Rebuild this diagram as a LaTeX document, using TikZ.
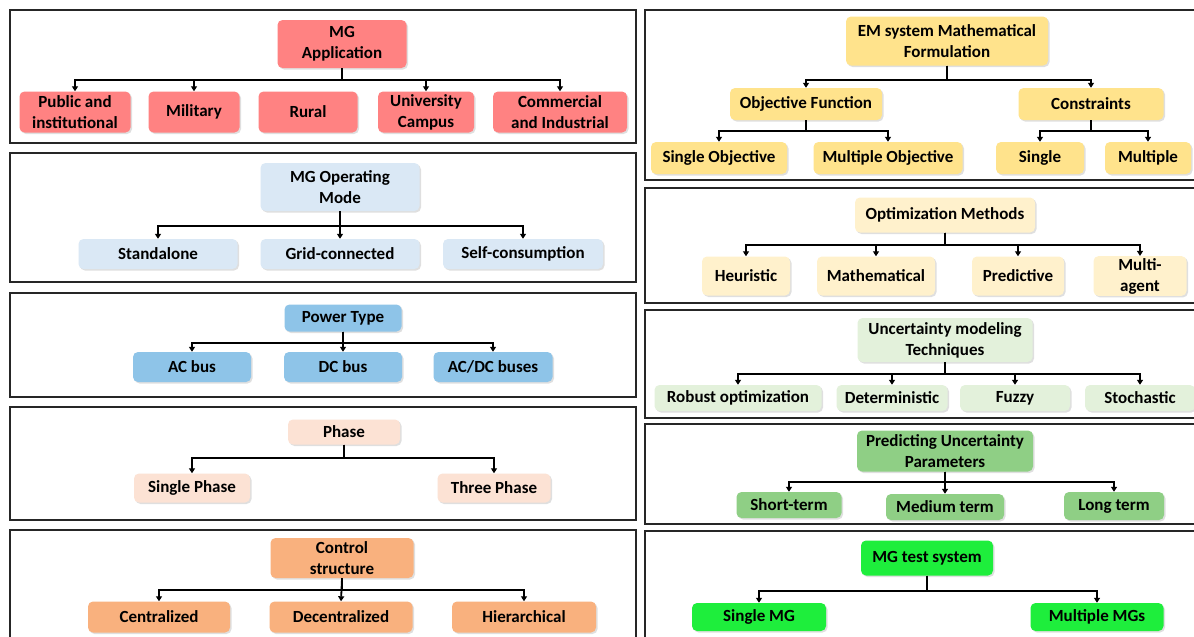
\documentclass[tikz,border=0pt]{standalone}
\usepackage{fontspec}
\setmainfont{Carlito}
\usepackage{xcolor}
\usepackage{tikz}
\usetikzlibrary{positioning, arrows.meta, shadows}

\definecolor{appred}{RGB}{255,130,130}
\definecolor{modeblue}{RGB}{218,232,245}
\definecolor{powblue}{RGB}{142,196,232}
\definecolor{phasepeach}{RGB}{252,226,212}
\definecolor{ctrlorange}{RGB}{249,177,126}
\definecolor{emyellow}{RGB}{255,227,140}
\definecolor{optyellow}{RGB}{255,241,204}
\definecolor{uncgreen}{RGB}{227,241,219}
\definecolor{predgreen}{RGB}{143,207,133}
\definecolor{testgreen}{RGB}{30,238,60}

\begin{document}
\begin{tikzpicture}[
  x=1pt, y=-1pt,
  box/.style={rounded corners=5pt, align=center, inner sep=2pt,
    font=\bfseries\fontsize{17}{21}\selectfont,
    drop shadow={opacity=0.25, shadow xshift=1.5pt, shadow yshift=-1.5pt}},
  panel/.style={draw=black!85, line width=2pt},
  arrow/.style={-{Triangle[length=5pt, width=6pt]}, line width=1.8pt}]

  \useasboundingbox (0,0) rectangle (1194,637);
  \fill[white] (0,0) rectangle (1194,637);

  % left column panels
  \draw[panel] (10,10) rectangle (636,143);
  \draw[panel] (10,153) rectangle (636,282);
  \draw[panel] (10,293) rectangle (636,397);
  \draw[panel] (10,407) rectangle (636,520);
  \draw[panel] (10,530) rectangle (636,650);
  % right column panels
  \draw[panel] (645,10) rectangle (1200,180);
  \draw[panel] (645,188) rectangle (1200,303);
  \draw[panel] (645,310) rectangle (1200,418);
  \draw[panel] (645,424) rectangle (1200,524);
  \draw[panel] (645,531) rectangle (1200,650);

  % MG application
  \node[box, fill=appred, minimum width=129, minimum height=48] (app) at (342,44) {MG\\Application};
  \node[box, fill=appred, minimum width=111, minimum height=41] (pub) at (75,112) {Public and\\institutional};
  \node[box, fill=appred, minimum width=91, minimum height=41] (mil) at (194,112) {Military};
  \node[box, fill=appred, minimum width=99, minimum height=41] (rur) at (308,112) {Rural};
  \node[box, fill=appred, minimum width=96, minimum height=41] (uni) at (426,112) {University\\Campus};
  \node[box, fill=appred, minimum width=134, minimum height=41] (com) at (560,112) {Commercial\\and Industrial};
  \draw[arrow] (app.south) -- ++(0,12) -| (pub.north);
  \draw[arrow] (app.south) -- ++(0,12) -| (mil.north);
  \draw[arrow] (app.south) -- ++(0,12) -| (uni.north);
  \draw[arrow] (app.south) -- ++(0,12) -| (com.north);

  % MG operating mode
  \node[box, fill=modeblue, minimum width=159, minimum height=48] (mode) at (340,187) {MG Operating\\Mode};
  \node[box, fill=modeblue, minimum width=159, minimum height=30] (stand) at (158,254) {Standalone};
  \node[box, fill=modeblue, minimum width=159, minimum height=30] (grid) at (340,254) {Grid-connected};
  \node[box, fill=modeblue, minimum width=160, minimum height=30] (self) at (523,254) {Self-consumption};
  \draw[arrow] (mode.south) -- ++(0,15) -| (stand.north);
  \draw[arrow] (mode.south) -- (grid.north);
  \draw[arrow] (mode.south) -- ++(0,15) -| (self.north);

  % power type
  \node[box, fill=powblue, minimum width=117, minimum height=27] (pow) at (343,318) {Power Type};
  \node[box, fill=powblue, minimum width=118, minimum height=30] (ac) at (192,367) {AC bus};
  \node[box, fill=powblue, minimum width=118, minimum height=30] (dc) at (343,367) {DC bus};
  \node[box, fill=powblue, minimum width=119, minimum height=30] (acdc) at (493,367) {AC/DC buses};
  \draw[arrow] (pow.south) -- ++(0,11) -| (ac.north);
  \draw[arrow] (pow.south) -- (dc.north);
  \draw[arrow] (pow.south) -- ++(0,11) -| (acdc.north);

  % phase
  \node[box, fill=phasepeach, minimum width=112, minimum height=25] (phase) at (344,432) {Phase};
  \node[box, fill=phasepeach, minimum width=116, minimum height=29] (single) at (192,488) {Single Phase};
  \node[box, fill=phasepeach, minimum width=113, minimum height=29] (three) at (494,488) {Three Phase};
  \draw[arrow] (phase.south) -- ++(0,13) -| (single.north);
  \draw[arrow] (phase.south) -- ++(0,13) -| (three.north);

  % control structure
  \node[box, fill=ctrlorange, minimum width=143, minimum height=40] (ctrl) at (342,558) {Control\\structure};
  \node[box, fill=ctrlorange, minimum width=142, minimum height=31] (cent) at (159,617) {Centralized};
  \node[box, fill=ctrlorange, minimum width=143, minimum height=31] (dece) at (341,617) {Decentralized};
  \node[box, fill=ctrlorange, minimum width=144, minimum height=31] (hier) at (524,617) {Hierarchical};
  \draw[arrow] (ctrl.south) -- ++(0,12) -| (cent.north);
  \draw[arrow] (ctrl.south) -- (dece.north);
  \draw[arrow] (ctrl.south) -- ++(0,12) -| (hier.north);

  % EM formulation
  \node[box, fill=emyellow, minimum width=202, minimum height=49] (em) at (947,41) {EM system Mathematical\\Formulation};
  \node[box, fill=emyellow, minimum width=152, minimum height=32] (obj) at (806,104) {Objective Function};
  \node[box, fill=emyellow, minimum width=145, minimum height=32] (cons) at (1091,104) {Constraints};
  \node[box, fill=emyellow, minimum width=136, minimum height=32] (sobj) at (719,158) {Single Objective};
  \node[box, fill=emyellow, minimum width=149, minimum height=32] (mobj) at (888,158) {Multiple Objective};
  \node[box, fill=emyellow, minimum width=88, minimum height=32] (scons) at (1040,158) {Single};
  \node[box, fill=emyellow, minimum width=86, minimum height=32] (mcons) at (1148,158) {Multiple};
  \draw[arrow] (em.south) -- ++(0,14) -| (obj.north);
  \draw[arrow] (em.south) -- ++(0,14) -| (cons.north);
  \draw[arrow] (obj.south) -- ++(0,11) -| (sobj.north);
  \draw[arrow] (obj.south) -- ++(0,11) -| (mobj.north);
  \draw[arrow] (cons.south) -- ++(0,11) -| (scons.north);
  \draw[arrow] (cons.south) -- ++(0,11) -| (mcons.north);

  % optimization methods
  \node[box, fill=optyellow, minimum width=180, minimum height=35] (opt) at (945,215) {Optimization Methods};
  \node[box, fill=optyellow, minimum width=88, minimum height=39] (heur) at (746,276) {Heuristic};
  \node[box, fill=optyellow, minimum width=118, minimum height=39] (math) at (876,276) {Mathematical};
  \node[box, fill=optyellow, minimum width=92, minimum height=39] (pred) at (1018,276) {Predictive};
  \node[box, fill=optyellow, minimum width=93, minimum height=39] (agent) at (1140,276) {Multi-\\agent};
  \draw[arrow] (opt.south) -- ++(0,12) -| (heur.north);
  \draw[arrow] (opt.south) -- ++(0,12) -| (math.north);
  \draw[arrow] (opt.south) -- ++(0,12) -| (pred.north);
  \draw[arrow] (opt.south) -- ++(0,12) -| (agent.north);

  % uncertainty modeling
  \node[box, fill=uncgreen, minimum width=175, minimum height=44] (unc) at (945,340) {Uncertainty modeling\\Techniques};
  \node[box, fill=uncgreen, minimum width=167, minimum height=26] (rob) at (738,398) {Robust optimization};
  \node[box, fill=uncgreen, minimum width=111, minimum height=26] (det) at (892,398) {Deterministic};
  \node[box, fill=uncgreen, minimum width=110, minimum height=26] (fuz) at (1015,398) {Fuzzy};
  \node[box, fill=uncgreen, minimum width=110, minimum height=26] (sto) at (1140,398) {Stochastic};
  \draw[arrow] (unc.south) -- ++(0,12) -| (rob.north);
  \draw[arrow] (unc.south) -- ++(0,12) -| (det.north);
  \draw[arrow] (unc.south) -- ++(0,12) -| (fuz.north);
  \draw[arrow] (unc.south) -- ++(0,12) -| (sto.north);

  % predicting uncertainty
  \node[box, fill=predgreen, minimum width=176, minimum height=41] (prd) at (945,451) {Predicting Uncertainty\\Parameters};
  \node[box, fill=predgreen, minimum width=105, minimum height=26] (short) at (789,505) {Short-term};
  \node[box, fill=predgreen, minimum width=118, minimum height=26] (medium) at (945,507) {Medium term};
  \node[box, fill=predgreen, minimum width=100, minimum height=28] (long) at (1114,506) {Long term};
  \draw[arrow] (prd.south) -- ++(0,10) -| (short.north);
  \draw[arrow] (prd.south) -- (medium.north);
  \draw[arrow] (prd.south) -- ++(0,10) -| (long.north);

  % MG test system
  \node[box, fill=testgreen, minimum width=132, minimum height=35] (test) at (927,558) {MG test system};
  \node[box, fill=testgreen, minimum width=134, minimum height=28] (smg) at (759,617) {Single MG};
  \node[box, fill=testgreen, minimum width=133, minimum height=28] (mmg) at (1097,617) {Multiple MGs};
  \draw[arrow] (test.south) -- ++(0,15) -| (smg.north);
  \draw[arrow] (test.south) -- ++(0,15) -| (mmg.north);
\end{tikzpicture}
\end{document}
